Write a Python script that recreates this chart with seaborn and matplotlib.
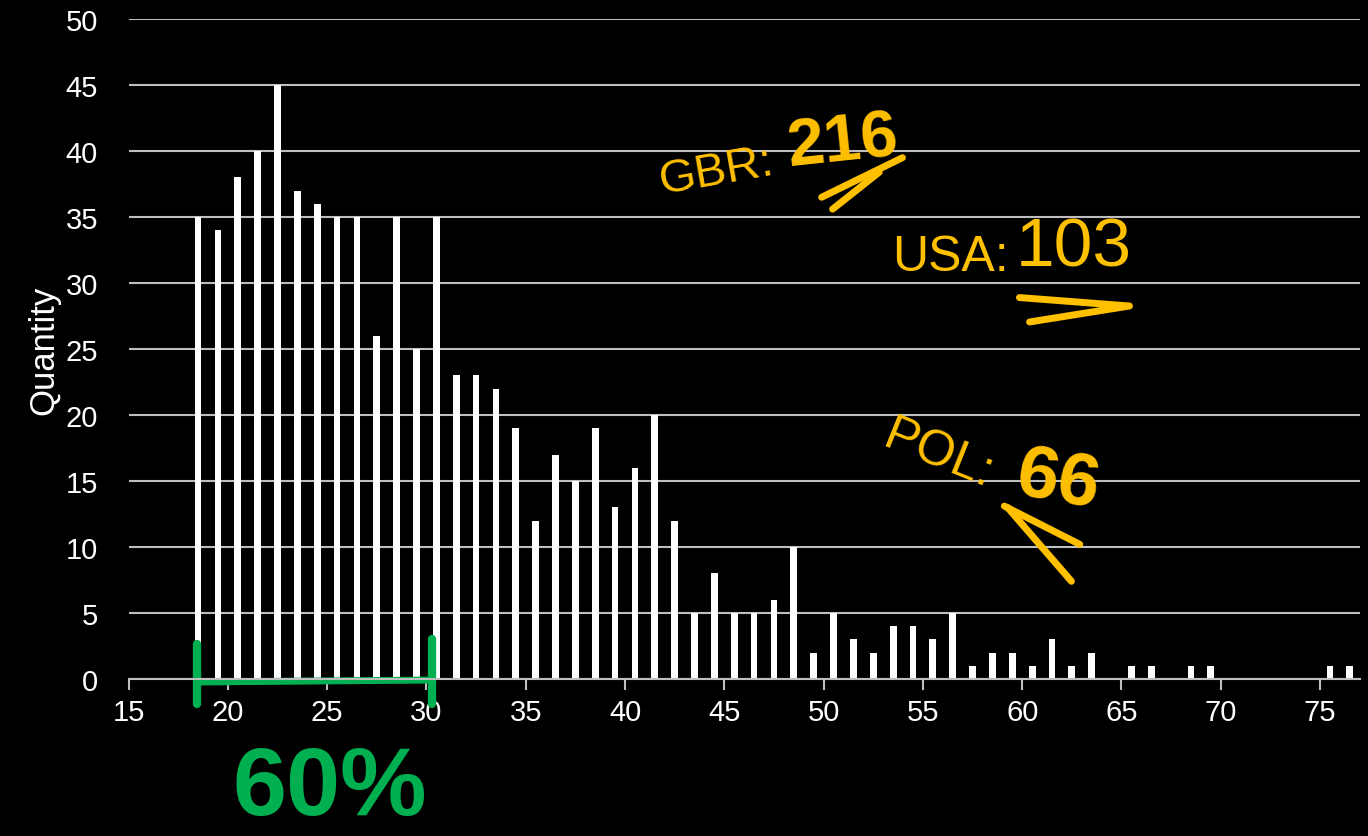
import pandas as pd
import matplotlib
matplotlib.use("Agg")
import matplotlib.pyplot as plt
import seaborn as sns

# Ages and number of people per age
ages = list(range(18, 77))
counts = [35, 34, 38, 40, 45, 37, 36, 35, 35, 26, 35, 25, 35,
          23, 23, 22, 19, 12, 17, 15, 19, 13, 16, 20, 12,
          5, 8, 5, 5, 6, 10, 2, 5, 3, 2, 4, 4, 3, 5,
          1, 2, 2, 1, 3, 1, 2, 0, 1, 1, 0, 1, 1,
          0, 0, 0, 0, 0, 1, 1]
x_ticks = list(range(15, 80, 5))
y_ticks = list(range(0, 55, 5))

# Hand-written notes
notes_label = ["GBR:", "USA:", "POL:"]
notes_value = ["216", "103", "66"]
share_text = "60%"

df = pd.DataFrame({'age': ages, 'count': counts})

sns.set_theme(style="dark")
plt.rcParams['font.family'] = ['Liberation Sans', 'DejaVu Sans']

grid_col = '#bfbfbf'
orange = '#FFC000'
green = '#00B050'
hand = ['Liberation Sans', 'DejaVu Sans']

fig = plt.figure(figsize=(13.68, 8.37), dpi=100, facecolor='black')
ax = fig.add_axes([0.094, 0.1876, 0.9, 0.7884])
ax.set_facecolor('black')

ax.yaxis.grid(True, color=grid_col, linewidth=1.5)
ax.xaxis.grid(False)
ax.set_axisbelow(True)

sns.histplot(data=df, x='age', weights='count', binwidth=1, binrange=(18, 77),
             shrink=0.34, color='white', edgecolor='none', alpha=1, ax=ax)

ax.set_xlim(15, 77)
ax.set_ylim(0, 50)
ax.set_xticks(x_ticks)
ax.set_yticks(y_ticks)
ax.tick_params(axis='x', colors=grid_col, labelcolor='white', labelsize=21,
               length=8, width=1.5, direction='out', pad=6, bottom=True)
ax.tick_params(axis='y', labelcolor='white', labelsize=21, length=0, pad=22)
ax.set_xlabel('')
ax.set_ylabel('Quantity', color='white', fontsize=25, labelpad=4)

for s in ['top', 'right', 'left']:
    ax.spines[s].set_visible(False)
ax.spines['bottom'].set_color(grid_col)
ax.spines['bottom'].set_linewidth(1.5)

# orange notes
ax.text(44.6, 38.5, notes_label[0], color=orange, fontsize=34, family=hand,
        rotation=10, ha='center', va='center')
ax.text(51.0, 40.6, notes_value[0], color=orange, fontsize=48, family=hand,
        fontweight='bold', rotation=6, ha='center', va='center')
ax.plot([49.9, 53.97], [36.5, 39.5], color=orange, lw=5, solid_capstyle='round')
ax.plot([50.45, 52.8], [35.6, 38.4], color=orange, lw=5, solid_capstyle='round')

ax.text(56.4, 32.0, notes_label[1], color=orange, fontsize=36, family=hand,
        ha='center', va='center')
ax.text(62.6, 32.7, notes_value[1], color=orange, fontsize=50, family=hand,
        ha='center', va='center')
ax.plot([59.86, 65.4, 60.37], [28.9, 28.26, 27.05], color=orange, lw=5,
        solid_capstyle='round', solid_joinstyle='round')

ax.text(55.8, 17.0, notes_label[2], color=orange, fontsize=36, family=hand,
        rotation=-22, ha='center', va='center')
ax.text(61.8, 15.0, notes_value[2], color=orange, fontsize=54, family=hand,
        fontweight='bold', rotation=-10, ha='center', va='center')
ax.plot([59.1, 62.9], [13.1, 10.2], color=orange, lw=5, solid_capstyle='round')
ax.plot([59.26, 62.48], [13.0, 7.4], color=orange, lw=5, solid_capstyle='round')

# green bracket over ages 18-30
ax.plot([18.44, 18.44], [2.65, -1.9], color=green, lw=6, clip_on=False,
        solid_capstyle='round')
ax.plot([30.27, 30.27], [3.0, -1.9], color=green, lw=6, clip_on=False,
        solid_capstyle='round')
ax.plot([18.44, 30.27], [-0.23, -0.08], color=green, lw=5, clip_on=False,
        solid_capstyle='round')
ax.text(25.15, -8.3, share_text, color=green, fontsize=70, family=hand,
        fontweight='bold', ha='center', va='center', clip_on=False)

fig.savefig('out.png', dpi=100, facecolor='black')
